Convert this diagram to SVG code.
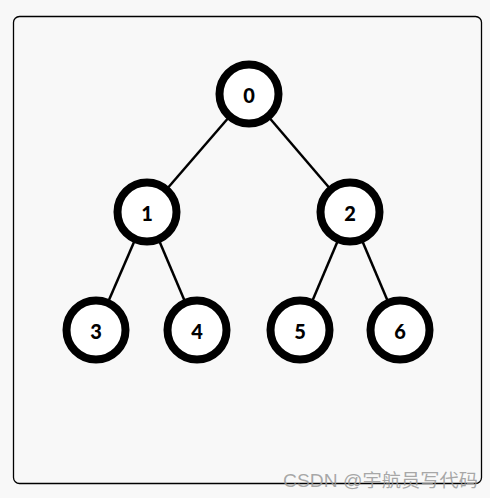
<svg xmlns="http://www.w3.org/2000/svg" width="490" height="498" viewBox="0 0 490 498">
<style>
.node circle{fill:#fff;stroke:#000;stroke-width:8}
.node text{font-family:"Lato","Liberation Sans",sans-serif;font-weight:900;font-size:20px;text-anchor:middle;dominant-baseline:central;fill:#000}
.edges line{stroke:#000;stroke-width:2.5}
</style>
<rect x="0" y="0" width="490" height="498" fill="#f8f8f8"/>
<rect x="13.5" y="16.5" width="468" height="467" rx="6" fill="#f8f8f8" stroke="#000" stroke-width="1.3"/>
<g class="edges">
<line x1="249" y1="94" x2="147" y2="212"/>
<line x1="249" y1="94" x2="350" y2="212"/>
<line x1="147" y1="212" x2="96" y2="330"/>
<line x1="147" y1="212" x2="197" y2="330"/>
<line x1="350" y1="212" x2="300" y2="330"/>
<line x1="350" y1="212" x2="400" y2="330"/>
</g>
<g id="n0" class="node"><circle cx="249" cy="94" r="29.5"/><text x="249" y="95">0</text></g>
<g id="n1" class="node"><circle cx="147" cy="212" r="29.5"/><text x="147" y="213">1</text></g>
<g id="n2" class="node"><circle cx="350" cy="212" r="29.5"/><text x="350" y="213">2</text></g>
<g id="n3" class="node"><circle cx="96" cy="330" r="29.5"/><text x="96" y="331">3</text></g>
<g id="n4" class="node"><circle cx="197" cy="330" r="29.5"/><text x="197" y="331">4</text></g>
<g id="n5" class="node"><circle cx="300" cy="330" r="29.5"/><text x="300" y="331">5</text></g>
<g id="n6" class="node"><circle cx="400" cy="330" r="29.5"/><text x="400" y="331">6</text></g>
<text x="283" y="487" font-family="'Liberation Sans','Noto Sans CJK SC',sans-serif" font-size="18" textLength="195" lengthAdjust="spacingAndGlyphs" fill="#999" fill-opacity="0.85">CSDN @宇航员写代码</text>
</svg>
